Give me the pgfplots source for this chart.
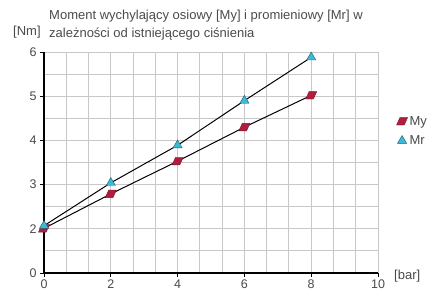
\documentclass[border=0pt]{standalone}
\usepackage{pgfplots}
\pgfplotsset{compat=1.18}
\usepackage{fontspec}
\setmainfont{Liberation Sans}
\definecolor{myc}{HTML}{B01E3F}
\definecolor{mrc}{HTML}{3CB9D6}
\definecolor{txt}{HTML}{4A4A4A}
\definecolor{gridc}{HTML}{C8C8C8}
\pgfdeclareplotmark{para}{%
  \pgfpathmoveto{\pgfpoint{-5.5pt}{-3.7pt}}%
  \pgfpathlineto{\pgfpoint{2.2pt}{-3.7pt}}%
  \pgfpathlineto{\pgfpoint{5.5pt}{3.7pt}}%
  \pgfpathlineto{\pgfpoint{-2.2pt}{3.7pt}}%
  \pgfpathclose
  \pgfusepathqfillstroke}
\begin{document}
\begin{tikzpicture}[x=1pt,y=1pt]
\useasboundingbox (0,0) rectangle (430,293);
\begin{axis}[
  at={(44pt,20pt)}, anchor=south west,
  scale only axis, width=334pt, height=221pt,
  xmin=0, xmax=10, ymin=1, ymax=6,
  axis x line*=bottom, axis y line*=left,
  xtick={0,2,4,6,8,10},
  ytick={1,2,3,4,5,6}, yticklabels={0,2,3,4,5,6},
  minor xtick={0.6667,1.3333,2,2.6667,3.3333,4,4.6667,5.3333,6,6.6667,7.3333,8,8.6667,9.3333,10},
  minor ytick={1.5,2,2.5,3,3.5,4,4.5,5,5.5,6},
  xmajorgrids=false, ymajorgrids=false, xminorgrids=true, yminorgrids=true,
  minor grid style={gridc, line width=1pt},
  minor tick length=0pt,
  major tick length=4pt,
  tick align=outside,
  major tick style={black, line width=1pt},
  axis line style={black, line width=1.2pt},
  ticklabel style={txt, font=\fontsize{12.5}{13}\selectfont},
  xticklabel style={yshift=1pt},
  /pgf/number format/assume math mode=true,
  clip=false,
  legend style={draw=none, fill=none, at={(1.055,0.72)}, anchor=north west,
    font=\fontsize{13}{14}\selectfont, text=txt, inner sep=0pt, row sep=5pt},
  legend cell align=left,
]
\addplot[black, line width=1pt, mark=para, mark options={fill=myc, draw=myc!70!black, line width=0.4pt}, forget plot]
  coordinates {(0,2.01) (2,2.79) (4,3.53) (6,4.30) (8,5.02)};
\addplot[black, line width=1pt, mark=triangle*, mark size=5.3pt, mark options={fill=mrc, draw=mrc!50!black, line width=0.4pt}, forget plot]
  coordinates {(0,2.07) (2,3.04) (4,3.89) (6,4.90) (8,5.88)};
\addlegendimage{only marks, mark=para, mark options={fill=myc, draw=myc!70!black, line width=0.4pt}}
\addlegendentry{My}
\addlegendimage{only marks, mark=triangle*, mark size=5.3pt, mark options={fill=mrc, draw=mrc!50!black, line width=0.4pt}}
\addlegendentry{Mr}
\end{axis}
\node[anchor=base west, text=txt, font=\fontsize{13}{14}\selectfont, inner sep=0pt] at (49,274)
  {Moment wychylający osiowy [My] i promieniowy [Mr] w};
\node[anchor=base west, text=txt, font=\fontsize{13}{14}\selectfont, inner sep=0pt] at (49,256)
  {zależności od istniejącego ciśnienia};
\node[anchor=base west, text=txt, font=\fontsize{13}{14}\selectfont, inner sep=0pt] at (13,258) {[Nm]};
\node[anchor=base west, text=txt, font=\fontsize{13}{14}\selectfont, inner sep=0pt] at (394,14) {[bar]};
\end{tikzpicture}
\end{document}
